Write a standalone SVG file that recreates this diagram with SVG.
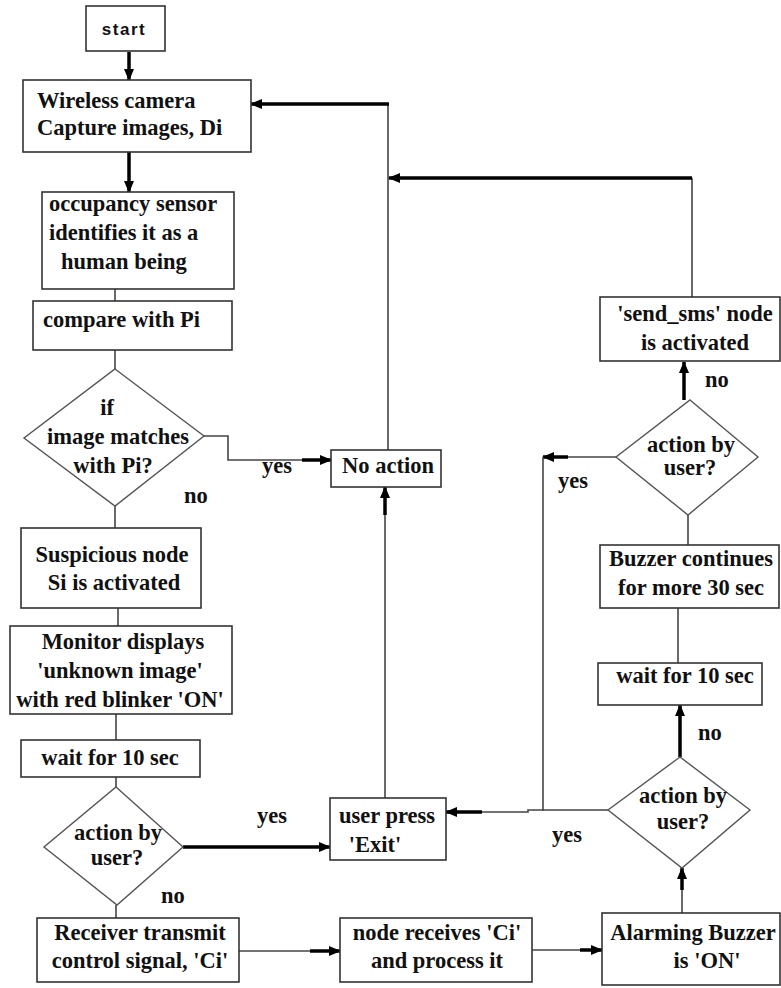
<svg xmlns="http://www.w3.org/2000/svg" width="781" height="988" viewBox="0 0 781 988">
<defs>
<marker id="ah" viewBox="0 0 12 10" refX="11" refY="5" markerWidth="12" markerHeight="10" markerUnits="userSpaceOnUse" orient="auto">
<path d="M0,0 L12,5 L0,10 Z" fill="#000"/>
</marker>
</defs>
<style>
.box{fill:#fff;stroke:#333;stroke-width:1.6}
.dia{fill:#fff;stroke:#555;stroke-width:1.4}
.t{font-family:"Liberation Serif","Times New Roman",serif;font-weight:bold;font-size:22.5px;fill:#111}
.m{text-anchor:middle}
.thin{fill:none;stroke:#444;stroke-width:1.6}
.thick{fill:none;stroke:#000;stroke-width:3.5}
.arr{marker-end:url(#ah)}
</style>
<rect width="781" height="988" fill="#fff"/>

<g id="connectors">
<line class="thick arr" x1="129" y1="52" x2="129" y2="80"/>
<line class="thick arr" x1="129" y1="152" x2="129" y2="192"/>
<line class="thin" x1="115" y1="289" x2="115" y2="301"/>
<line class="thin" x1="115" y1="350" x2="115" y2="369"/>
<polyline class="thin" points="204,436 228,436 228,460 305,460"/>
<line class="thick arr" x1="302" y1="460" x2="331" y2="460"/>
<line class="thin" x1="115" y1="506" x2="115" y2="528"/>
<line class="thin" x1="118" y1="608" x2="118" y2="626"/>
<line class="thin" x1="116" y1="714" x2="116" y2="740"/>
<line class="thin" x1="116" y1="777" x2="116" y2="787"/>
<line class="thick arr" x1="183" y1="847" x2="330" y2="847"/>
<line class="thin" x1="116" y1="905" x2="116" y2="918"/>
<line class="thin" x1="239" y1="951" x2="315" y2="951"/>
<line class="thick arr" x1="310" y1="951" x2="340" y2="951"/>
<line class="thin" x1="532" y1="950" x2="585" y2="950"/>
<line class="thick arr" x1="580" y1="950" x2="602" y2="950"/>
<line class="thin" x1="682" y1="913" x2="682" y2="885"/>
<line class="thick arr" x1="682" y1="890" x2="682" y2="868"/>
<line class="thick arr" x1="680" y1="757" x2="680" y2="705"/>
<line class="thin" x1="678" y1="663" x2="678" y2="608"/>
<line class="thin" x1="688" y1="545" x2="688" y2="515"/>
<line class="thick arr" x1="684" y1="400" x2="684" y2="362"/>
<line class="thin" x1="616" y1="457" x2="565" y2="457"/>
<line class="thick arr" x1="568" y1="457" x2="543" y2="457"/>
<line class="thin" x1="543" y1="457" x2="543" y2="811"/>
<polyline class="thin" points="608,810 528,810 528,812 480,812"/>
<line class="thick arr" x1="482" y1="812" x2="446" y2="812"/>
<line class="thin" x1="385" y1="798" x2="385" y2="510"/>
<line class="thick arr" x1="385" y1="515" x2="385" y2="487"/>
<line class="thin" x1="388" y1="450" x2="388" y2="104"/>
<line class="thick arr" x1="389" y1="104" x2="251" y2="104"/>
<line class="thin" x1="692" y1="297" x2="692" y2="178"/>
<line class="thick arr" x1="692" y1="178" x2="389" y2="178"/>
</g>

<g id="start">
<rect class="box" x="86" y="6" width="79" height="45"/>
<text x="124" y="35" text-anchor="middle" font-family="Liberation Sans, Arial, sans-serif" font-size="17" font-weight="bold" letter-spacing="1.5" fill="#111">start</text>
</g>
<g id="wireless">
<rect class="box" x="23" y="80" width="228" height="72"/>
<text class="t" x="37" y="108">Wireless camera</text>
<text class="t" x="37" y="135">Capture images, Di</text>
</g>
<g id="occupancy">
<rect class="box" x="42" y="192" width="192" height="97"/>
<text class="t" x="49" y="211">occupancy sensor</text>
<text class="t" x="49" y="240">identifies it as a</text>
<text class="t" x="61" y="269">human being</text>
</g>
<g id="compare">
<rect class="box" x="33" y="301" width="199" height="49"/>
<text class="t" x="43" y="327">compare with Pi</text>
</g>
<g id="match">
<polygon class="dia" points="115,369 204,436 115,506 24,438"/>
<text class="t m" x="107" y="415">if</text>
<text class="t m" x="118" y="444">image matches</text>
<text class="t m" x="113" y="473">with Pi?</text>
</g>
<g id="labels">
<text class="t" x="262" y="473">yes</text>
<text class="t" x="184" y="503">no</text>
<text class="t" x="257" y="823">yes</text>
<text class="t" x="161" y="903">no</text>
<text class="t" x="552" y="842">yes</text>
<text class="t" x="698" y="740">no</text>
<text class="t" x="558" y="488">yes</text>
<text class="t" x="705" y="387">no</text>
</g>
<g id="noaction">
<rect class="box" x="331" y="450" width="110" height="37"/>
<text class="t m" x="388" y="473">No action</text>
</g>
<g id="suspicious">
<rect class="box" x="21" y="528" width="180" height="80"/>
<text class="t m" x="112" y="562">Suspicious node</text>
<text class="t m" x="114" y="590">Si is activated</text>
</g>
<g id="monitor">
<rect class="box" x="10" y="626" width="222" height="88"/>
<text class="t m" x="123" y="649">Monitor displays</text>
<text class="t m" x="120" y="678">'unknown image'</text>
<text class="t m" x="120" y="707">with red blinker 'ON'</text>
</g>
<g id="wait1">
<rect class="box" x="21" y="740" width="179" height="37"/>
<text class="t m" x="110" y="765">wait for 10 sec</text>
</g>
<g id="action1">
<polygon class="dia" points="116,787 183,847 117,905 44,847"/>
<text class="t m" x="118" y="840">action by</text>
<text class="t m" x="117" y="865">user?</text>
</g>
<g id="receiver">
<rect class="box" x="37" y="918" width="202" height="64"/>
<text class="t m" x="140" y="940">Receiver transmit</text>
<text class="t m" x="140" y="968">control signal, 'Ci'</text>
</g>
<g id="userpress">
<rect class="box" x="330" y="798" width="116" height="62"/>
<text class="t m" x="387" y="823">user press</text>
<text class="t m" x="375" y="852">'Exit'</text>
</g>
<g id="nodereceives">
<rect class="box" x="340" y="918" width="192" height="64"/>
<text class="t m" x="437" y="940">node receives 'Ci'</text>
<text class="t m" x="437" y="968">and process it</text>
</g>
<g id="alarm">
<rect class="box" x="602" y="913" width="178" height="72"/>
<text class="t m" x="693" y="940">Alarming Buzzer</text>
<text class="t m" x="707" y="968">is 'ON'</text>
</g>
<g id="action3">
<polygon class="dia" points="680,757 750,810 682,868 608,810"/>
<text class="t m" x="683" y="803">action by</text>
<text class="t m" x="683" y="829">user?</text>
</g>
<g id="wait2">
<rect class="box" x="598" y="663" width="164" height="42"/>
<text class="t m" x="685" y="683">wait for 10 sec</text>
</g>
<g id="buzzer">
<rect class="box" x="600" y="545" width="179" height="63"/>
<text class="t m" x="691" y="566">Buzzer continues</text>
<text class="t m" x="691" y="595">for more 30 sec</text>
</g>
<g id="action2">
<polygon class="dia" points="690,400 758,457 688,515 616,457"/>
<text class="t m" x="691" y="452">action by</text>
<text class="t m" x="690" y="475">user?</text>
</g>
<g id="sendsms">
<rect class="box" x="600" y="297" width="180" height="64"/>
<text class="t m" x="695" y="321">'send_sms' node</text>
<text class="t m" x="695" y="350">is activated</text>
</g>
</svg>
